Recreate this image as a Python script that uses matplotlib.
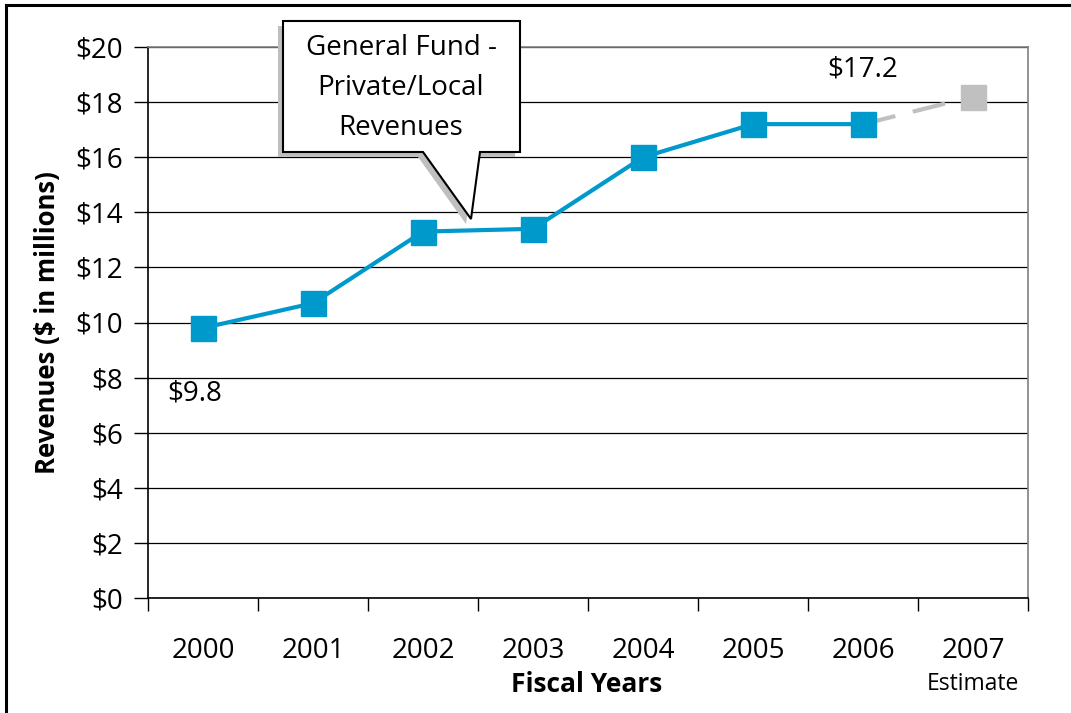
import numpy as np
import matplotlib.pyplot as plt
from matplotlib.patches import Polygon
from matplotlib.lines import Line2D

plt.rcParams['font.family'] = ['Open Sans', 'DejaVu Sans']

years = ['2000', '2001', '2002', '2003', '2004', '2005', '2006', '2007']
revenues = [9.8, 10.7, 13.3, 13.4, 16.0, 17.2, 17.2]   # actuals 2000-2006
estimate_2007 = 18.2
yticks = np.arange(0, 21, 2)

blue = '#0099CC'
grey = '#C0C0C0'

W, H = 1071, 713
fig = plt.figure(figsize=(W / 100, H / 100), dpi=100)
ax = fig.add_axes([148 / W, 1 - 598 / H, 880 / W, 551 / H])

x = np.arange(len(years))
# dashed estimate segment first, so the blue marker sits on top
ax.plot([x[6], x[7]], [revenues[-1], estimate_2007], color=grey, lw=3, ls=(0, (8, 4.3)),
        marker='s', markersize=18, markevery=[1], markerfacecolor=grey,
        markeredgecolor=grey, zorder=3, clip_on=False)
ax.plot(x[:7], revenues, color=blue, lw=3, marker='s', markersize=18,
        markerfacecolor=blue, markeredgecolor=blue, zorder=4, clip_on=False)

ax.annotate('$9.8', (x[0], revenues[0]), xytext=(-8, -65), textcoords='offset pixels',
            ha='center', va='center', fontsize=20)
ax.annotate('$17.2', (x[6], revenues[-1]), xytext=(0, 55), textcoords='offset pixels',
            ha='center', va='center', fontsize=20)

ax.set_xlim(-0.5, 7.5)
ax.set_ylim(0, 20)
ax.set_yticks(yticks)
ax.set_yticklabels([f'${v}' for v in yticks], fontsize=20)
ax.yaxis.grid(True, color='black', lw=0.9)
ax.set_axisbelow(True)

ax.set_xticks(np.arange(-0.5, 8, 1))
ax.set_xticklabels([])
ax.set_xticks(x, minor=True)
ax.set_xticklabels(years, minor=True, fontsize=20)
ax.tick_params(axis='x', which='major', length=9, width=1, direction='out')
ax.tick_params(axis='x', which='minor', length=0, pad=28)
ax.tick_params(axis='y', length=10, width=1, pad=8)

for s in ['top', 'right']:
    ax.spines[s].set_color('#808080')
    ax.spines[s].set_linewidth(1.2)
for s in ['left', 'bottom']:
    ax.spines[s].set_color('black')
    ax.spines[s].set_linewidth(1.2)

ax.set_ylabel('Revenues ($ in millions)', fontsize=18.5, fontweight='bold', labelpad=10)
fig.text(587 / W, 1 - 685 / H, 'Fiscal Years', ha='center', va='center',
         fontsize=19, fontweight='bold')
fig.text(973 / W, 1 - 684 / H, 'Estimate', ha='center', va='center', fontsize=16.5)

# callout box with pointer, in figure pixels
def fig_pts(pts, dx=0, dy=0):
    return [((px + dx) / W, 1 - (py + dy) / H) for px, py in pts]

callout = [(283, 21), (520, 21), (520, 152), (480, 152), (471, 219),
           (423, 152), (283, 152)]
fig.patches.append(Polygon(fig_pts(callout, -5, 5), closed=True, transform=fig.transFigure,
                           facecolor='#BFBFBF', edgecolor='none', zorder=5))
fig.patches.append(Polygon(fig_pts(callout), closed=True, transform=fig.transFigure,
                           facecolor='white', edgecolor='black', lw=1.5, zorder=6))
fig.text(401 / W, 1 - 88 / H, 'General Fund -\nPrivate/Local\nRevenues', ha='center',
         va='center', fontsize=20, linespacing=1.55, zorder=7)

# outer frame (left and top edges)
fig.lines.append(Line2D([6 / W, 6 / W], [0, 1 - 5 / H], transform=fig.transFigure,
                        color='black', lw=2.2))
fig.lines.append(Line2D([6 / W, 1], [1 - 5 / H, 1 - 5 / H], transform=fig.transFigure,
                        color='black', lw=2.2))

fig.savefig('out.png', dpi=100)
